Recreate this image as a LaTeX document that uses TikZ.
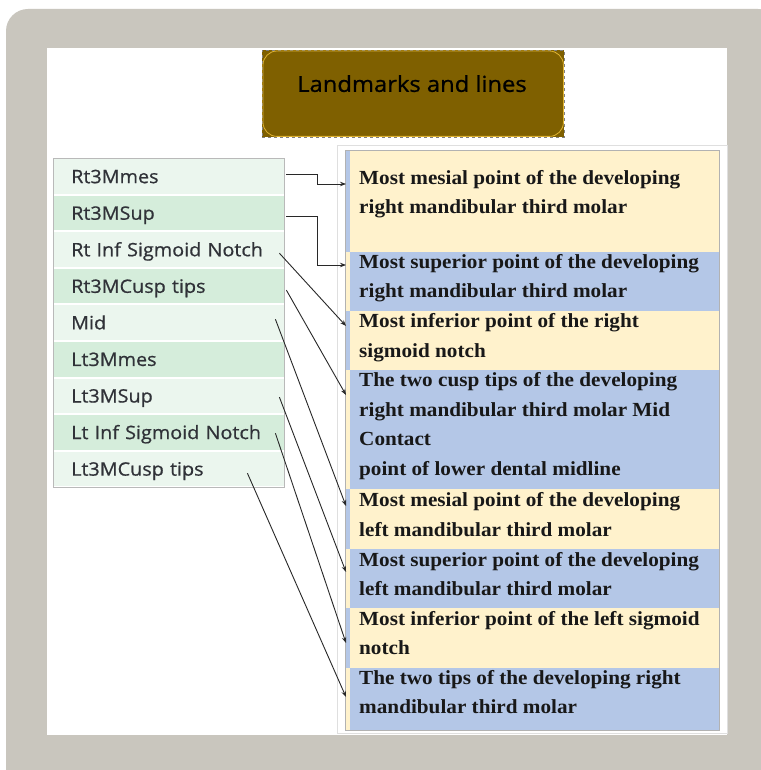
\documentclass[tikz,border=0pt]{standalone}
\usepackage{fontspec}
\setmainfont[FakeStretch=1.06]{Liberation Serif}
\newfontfamily\listfont[FakeStretch=1.07,FakeBold=0.7]{Open Sans}
\newfontfamily\titlefont[FakeStretch=1.08,FakeBold=0.9]{Open Sans}
\usetikzlibrary{calc,arrows.meta}
\definecolor{bggray}{RGB}{201,198,190}
\definecolor{gold}{RGB}{127,96,0}
\definecolor{goldline}{RGB}{222,178,50}
\definecolor{lgreen}{RGB}{235,246,238}
\definecolor{dgreen}{RGB}{213,237,219}
\definecolor{cream}{RGB}{255,242,204}
\definecolor{lblue}{RGB}{180,199,231}
\definecolor{ltext}{RGB}{48,50,56}
\definecolor{rtext}{RGB}{24,24,24}
\definecolor{conn}{RGB}{40,40,40}
\tikzset{
  lrow/.style={draw=none, anchor=north west, text width=195pt, inner xsep=18pt, inner ysep=0pt,
    minimum height=34.6pt, align=left, font=\listfont\fontsize{18.5}{22}\selectfont, text=ltext,
    text height=13.3pt, text depth=0pt},
  rrow/.style={draw=none, anchor=north west, minimum width=374pt, inner sep=0pt},
  rline/.style={anchor=base west, inner sep=0pt, font=\bfseries\fontsize{20}{24}\selectfont, text=rtext},
  conn/.style={draw=conn, line width=0.9pt, -{Stealth[length=6pt,width=4.5pt]}},
}
\begin{document}
\begin{tikzpicture}[x=1pt,y=-1pt]
\useasboundingbox (0,0) rectangle (760,770);
\fill[white] (0,0) rectangle (760,770);
\fill[bggray, rounded corners=22pt] (6,9) rectangle (780,790);
\fill[white] (47,48) rectangle (727,735);
% title
\node[draw=gray, dashed, fill=gold, minimum width=302pt, minimum height=87pt, inner sep=0pt, anchor=north west] (titlebox) at (262,50) {};
\draw[goldline, line width=0.8pt, rounded corners=14pt] ($(titlebox.north west)+(1,1)$) rectangle ($(titlebox.south east)+(-1,-1)$);
\node[font=\titlefont\fontsize{22}{26}\selectfont, text=black, text height=15.7pt, text depth=0pt, inner sep=0pt] (title) at (412,84) {Landmarks and lines};
% left list
\foreach \i/\c/\t in {1/lgreen/Rt3Mmes, 2/dgreen/Rt3MSup, 3/lgreen/Rt Inf Sigmoid Notch, 4/dgreen/Rt3MCusp tips, 5/lgreen/Mid, 6/dgreen/Lt3Mmes, 7/lgreen/Lt3MSup, 8/dgreen/Lt Inf Sigmoid Notch, 9/lgreen/Lt3MCusp tips}{
  \node[lrow, fill=\c] (l\i) at (53,{158+(\i-1)*36.56+1}) {\t};
}
\draw[gray!55, line width=0.6pt] (53,158) rectangle (284,487);
% right panel
\draw[gray!25, line width=0.8pt] (337,145) rectangle (727,733);
\node[rrow, fill=cream, minimum height=102pt] (r1) at (345,150) {};
\node[rrow, fill=lblue, minimum height=59pt] (r2) at (345,252) {};
\node[rrow, fill=cream, minimum height=59pt] (r3) at (345,311) {};
\node[rrow, fill=lblue, minimum height=119pt] (r4) at (345,370) {};
\node[rrow, fill=cream, minimum height=60pt] (r5) at (345,489) {};
\node[rrow, fill=lblue, minimum height=59pt] (r6) at (345,549) {};
\node[rrow, fill=cream, minimum height=60pt] (r7) at (345,608) {};
\node[rrow, fill=lblue, minimum height=62pt] (r8) at (345,668) {};
\foreach \i/\c in {1/lblue,2/cream,3/lblue,4/cream,5/lblue,6/cream,7/lblue,8/cream}{
  \fill[\c] (r\i.north west) rectangle ($(r\i.south west)+(5,0)$);
}
\draw[gray!60, line width=0.6pt] (345,150) rectangle (719,730);
% right texts
\node[rline] (t1a) at (359,184.3) {Most mesial point of the developing};
\node[rline] (t1b) at (359,213.6) {right mandibular third molar};
\node[rline] (t2a) at (359,268.3) {Most superior point of the developing};
\node[rline] (t2b) at (359,297.6) {right mandibular third molar};
\node[rline] (t3a) at (359,327.7) {Most inferior point of the right};
\node[rline] (t3b) at (359,357.0) {sigmoid notch};
\node[rline] (t4a) at (359,386.7) {The two cusp tips of the developing};
\node[rline] (t4b) at (359,416.2) {right mandibular third molar Mid};
\node[rline] (t4c) at (359,445.8) {Contact};
\node[rline] (t4d) at (359,475.5) {point of lower dental midline};
\node[rline] (t5a) at (359,506.7) {Most mesial point of the developing};
\node[rline] (t5b) at (359,536.0) {left mandibular third molar};
\node[rline] (t6a) at (359,566.0) {Most superior point of the developing};
\node[rline] (t6b) at (359,595.3) {left mandibular third molar};
\node[rline] (t7a) at (359,625.0) {Most inferior point of the left sigmoid};
\node[rline] (t7b) at (359,654.3) {notch};
\node[rline] (t8a) at (359,684.3) {The two tips of the developing right};
\node[rline] (t8b) at (359,713.6) {mandibular third molar};
% connectors
\draw[conn] ($(l1.east)+(2,-2.3)$) -- ++(31,0) |- ($(r1.north west)+(1,34)$);
\draw[conn] ($(l2.east)+(2,3.2)$) -- ++(31,0) |- ($(r2.north west)+(1,13)$);
\draw[conn] ($(l3.east)+(-5,3.6)$) -- ($(r3.north west)+(1,15)$);
\draw[conn] ($(l4.east)+(2,4)$) -- ($(r4.north west)+(1,25)$);
\draw[conn] ($(l5.east)+(-9,-3.5)$) -- ($(r5.north west)+(1,17)$);
\draw[conn] ($(l7.east)+(-5,1.3)$) -- ($(r6.north west)+(1,23)$);
\draw[conn] ($(l8.east)+(-9,0.8)$) -- ($(r7.north west)+(1,35)$);
\draw[conn] ($(l9.east)+(-37,4.2)$) -- ($(r8.north west)+(1,29)$);
\end{tikzpicture}
\end{document}
